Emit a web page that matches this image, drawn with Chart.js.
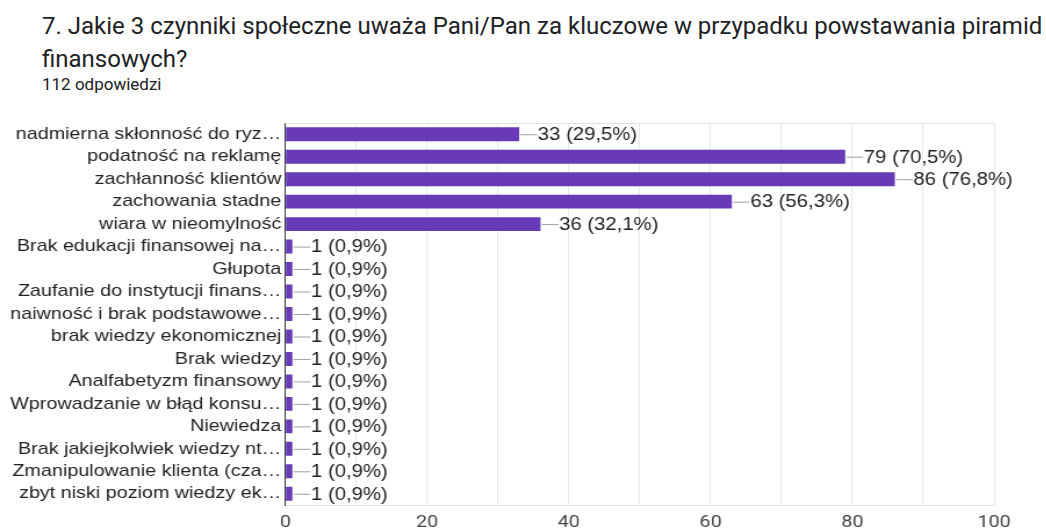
<!DOCTYPE html>
<html lang="pl">
<head>
<meta charset="utf-8">
<script src="https://cdn.jsdelivr.net/npm/chart.js@4.4.1/dist/chart.umd.min.js"></script>
<style>
html, body { margin: 0; padding: 0; background: #fff; }
body { width: 1046px; height: 532px; position: relative; overflow: hidden; }
.title { position: absolute; left: 42px; top: 10px; font-family: Roboto, sans-serif; font-size: 24px; line-height: 33px; color: #202124; white-space: nowrap; }
.sub { position: absolute; left: 42px; top: 74px; font-family: Roboto, sans-serif; font-size: 17px; color: #202124; }
#wrap { position: absolute; left: 0; top: 0; width: 901.7px; height: 532px; transform: scaleX(1.16); transform-origin: 0 0; }
</style>
</head>
<body>
<div class="title">7. Jakie 3 czynniki społeczne uważa Pani/Pan za kluczowe w przypadku powstawania piramid<br>finansowych?</div>
<div class="sub">112 odpowiedzi</div>
<div id="wrap"><canvas id="chart"></canvas></div>
<script>
const categories = [
  "nadmierna skłonność do ryz…",
  "podatność na reklamę",
  "zachłanność klientów",
  "zachowania stadne",
  "wiara w nieomylność",
  "Brak edukacji finansowej na…",
  "Głupota",
  "Zaufanie do instytucji finans…",
  "naiwność i brak podstawowe…",
  "brak wiedzy ekonomicznej",
  "Brak wiedzy",
  "Analfabetyzm finansowy",
  "Wprowadzanie w błąd konsu…",
  "Niewiedza",
  "Brak jakiejkolwiek wiedzy nt…",
  "Zmanipulowanie klienta (cza…",
  "zbyt niski poziom wiedzy ek…"
];
const counts = [33, 79, 86, 63, 36, 1, 1, 1, 1, 1, 1, 1, 1, 1, 1, 1, 1];
const totalAnswers = 112;
const xTickLabels = [0, 20, 40, 60, 80, 100];

const labelFont = "'Liberation Sans', Arial, sans-serif";

// value + percentage next to each bar, with a short leader line
const valueLabels = {
  id: "valueLabels",
  afterDatasetsDraw(chart) {
    const ctx = chart.ctx;
    const meta = chart.getDatasetMeta(0);
    ctx.save();
    ctx.font = "17.5px " + labelFont;
    ctx.textBaseline = "middle";
    ctx.textAlign = "left";
    meta.data.forEach((bar, i) => {
      const x = bar.x, y = bar.y;
      ctx.strokeStyle = "#a0a0a0";
      ctx.lineWidth = 1;
      ctx.beginPath();
      ctx.moveTo(x + 1, y + 0.5);
      ctx.lineTo(x + 15.5, y + 0.5);
      ctx.stroke();
      const pct = (counts[i] / totalAnswers * 100).toFixed(1).replace(".", ",");
      ctx.fillStyle = "#222";
      ctx.fillText(counts[i] + " (" + pct + "%)", x + 16, y + 1);
    });
    ctx.restore();
  }
};

// light frame line along the top of the plot
const topLine = {
  id: "topLine",
  beforeDatasetsDraw(chart) {
    const a = chart.chartArea, ctx = chart.ctx;
    ctx.save();
    ctx.strokeStyle = "#e2e2e2";
    ctx.lineWidth = 1;
    ctx.beginPath();
    ctx.moveTo(a.left, Math.round(a.top) + 0.5);
    ctx.lineTo(a.right, Math.round(a.top) + 0.5);
    ctx.stroke();
    ctx.restore();
  }
};

new Chart(document.getElementById("chart"), {
  type: "bar",
  data: {
    labels: categories,
    datasets: [{
      data: counts,
      backgroundColor: "#673ab7",
      borderWidth: 0,
      barPercentage: 0.62,
      categoryPercentage: 1
    }]
  },
  options: {
    indexAxis: "y",
    responsive: true,
    maintainAspectRatio: false,
    animation: false,
    events: [],
    layout: { padding: { top: 123, left: 0, right: 45.7, bottom: 0 } },
    plugins: { legend: { display: false }, tooltip: { enabled: false } },
    scales: {
      x: {
        min: 0,
        max: 100,
        afterFit(scale) { scale.height = 27; },
        grid: { color: "#e8e8e8", drawTicks: false },
        border: { color: "#e2e2e2" },
        ticks: {
          stepSize: 10,
          autoSkip: false,
          maxRotation: 0,
          padding: 8,
          color: "#444",
          font: { family: "Roboto, sans-serif", size: 17 },
          callback: v => xTickLabels.includes(v) ? String(v) : ""
        }
      },
      y: {
        afterFit(scale) { scale.width = 245.7; },
        grid: { display: false, drawTicks: false },
        border: { color: "#333", width: 1 },
        ticks: {
          autoSkip: false,
          padding: 3.5,
          color: "#222",
          font: { family: labelFont, size: 17 }
        }
      }
    }
  },
  plugins: [valueLabels, topLine]
});
</script>
</body>
</html>
